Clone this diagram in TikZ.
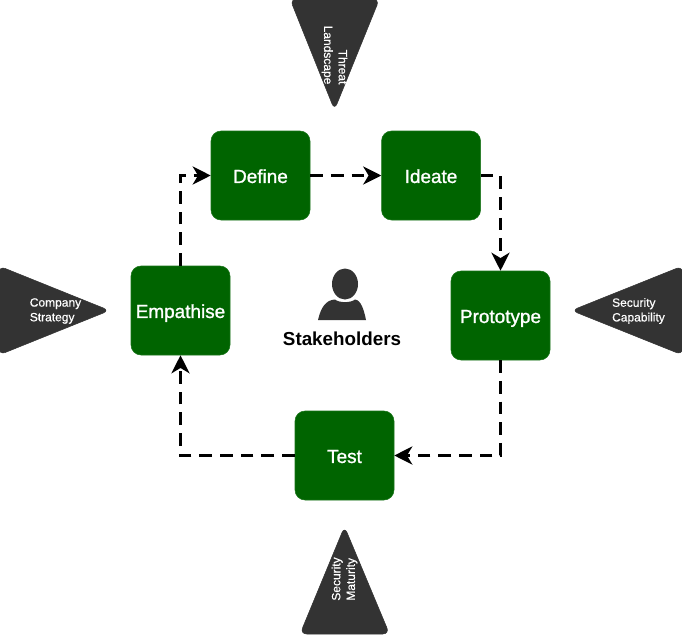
\documentclass[tikz,border=0pt]{standalone}
\usepackage{fontspec}
\setmainfont{Liberation Sans}
\newfontfamily\heavyfont[FakeBold=1.2]{Liberation Sans}
\newfontfamily\midfont[FakeBold=0.5]{Liberation Sans}
\usetikzlibrary{positioning}
\usetikzlibrary{arrows.meta}
\definecolor{stagegreen}{RGB}{0,100,0}
\definecolor{inputgrey}{RGB}{51,51,51}
\tikzset{
  stage/.style={draw=stagegreen!90!white,fill=stagegreen,rounded corners=7.5pt,minimum width=74.25pt,minimum height=66.75pt,inner sep=0pt,text=white,text height=14.2pt,text depth=3pt,font=\heavyfont\fontsize{14.2}{16}\selectfont},
  flow/.style={-{Stealth[length=13.5pt,width=13.5pt,inset=4pt]},line width=2.4pt,dash pattern=on 9.5pt off 6pt},
  input/.style={fill=inputgrey,draw=inputgrey,rounded corners=5pt},
  inputtext/.style={text=white,inner sep=0pt,font=\midfont\fontsize{9}{11}\selectfont},
}
\begin{document}
\begin{tikzpicture}[x=0.75pt,y=-0.75pt,node distance=53.25pt]
\useasboundingbox (0,0) rectangle (682,636);
\node[stage] (define) at (260.5,175.5) {Define};
\node[stage,right=of define] (ideate) {Ideate};
\node[stage] (prototype) at (500.5,315.5) {Prototype};
\node[stage] (test) at (344.5,455.5) {Test};
\node[stage] (empathise) at (180.5,310.5) {Empathise};
\path[flow] (define) edge (ideate);
\path[flow,draw] (ideate.east) -| (prototype.north);
\path[flow,draw] (prototype.south) |- (test.east);
\path[flow,draw] (test.west) -| (empathise.south);
\path[flow,draw] (empathise.north) |- (define.west);
% outside triangles
\draw[input] (290,-1) -- (379.5,-1) -- (334.5,110) -- cycle;
\draw[input] (-1,266) -- (-1,355) -- (109.5,310.5) -- cycle;
\draw[input] (682.5,266) -- (682.5,355) -- (571.5,310.5) -- cycle;
\draw[input] (300,634) -- (389.5,634) -- (344.5,526.5) -- cycle;
\node[inputtext,rotate=-90,align=right] (threat) at (334.5,55) {Threat\\Landscape};
\node[inputtext,align=left] (company) at (55.5,311) {Company\\Strategy};
\node[inputtext,align=left] (capability) at (638.5,311) {Security\\Capability};
\node[inputtext,rotate=90,align=left] (maturity) at (344.5,579) {Security\\Maturity};
% stakeholder icon
\fill[inputgrey] (345,284) ellipse (13 and 15.5);
\fill[inputgrey] (318,320) .. controls (321,307) and (326,300) .. (335,299.5) .. controls (339,303) and (351,303) .. (355,299.5) .. controls (361,300) and (364,310) .. (366,320) -- cycle;
\node[font=\bfseries\fontsize{14.1}{16}\selectfont] (stakeholders) at (342,338.5) {Stakeholders};
\end{tikzpicture}
\end{document}
